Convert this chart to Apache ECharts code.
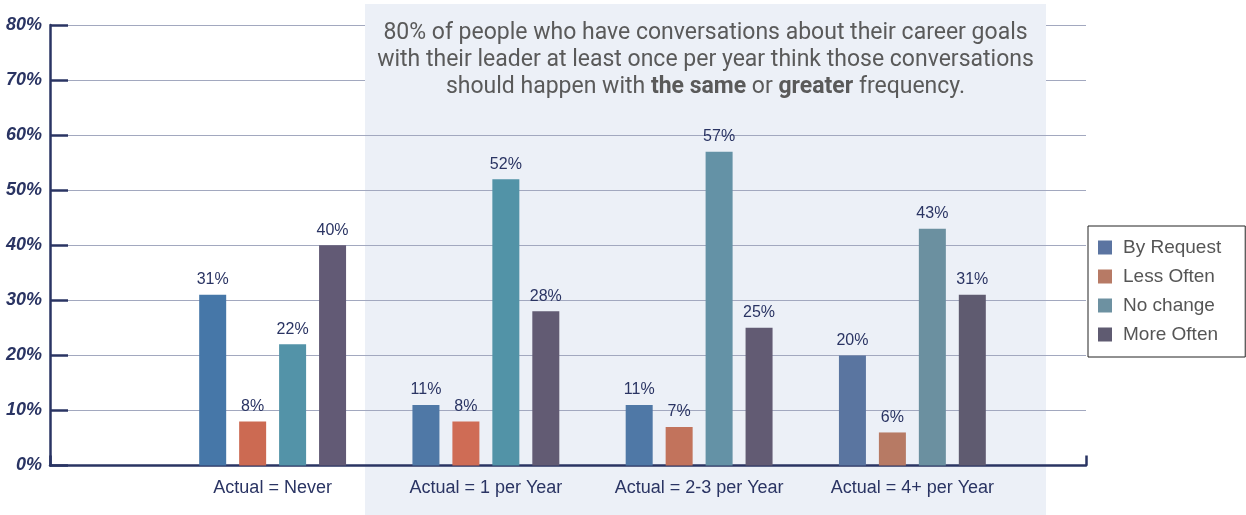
<!DOCTYPE html>
<html>
<head>
<meta charset="utf-8">
<script src="https://cdn.jsdelivr.net/npm/echarts@6/dist/echarts.min.js"></script>
<style>
  html, body { margin: 0; padding: 0; background: #ffffff; }
  #chart { width: 1246px; height: 515px; }
</style>
</head>
<body>
<div id="chart"></div>
<script>
// Survey responses: how often career-goal conversations should happen,
// grouped by how often they actually happen today.
const categories = ['Actual = Never', 'Actual = 1 per Year', 'Actual = 2-3 per Year', 'Actual = 4+ per Year'];
const seriesNames = ['By Request', 'Less Often', 'No change', 'More Often'];
const byRequest = [31, 11, 11, 20];
const lessOften = [8, 8, 7, 6];
const noChange = [22, 52, 57, 43];
const moreOften = [40, 28, 25, 31];
const yTicks = [0, 10, 20, 30, 40, 50, 60, 70, 80];

// Palette: legend swatch colour per series, plus the slightly shifted shade each group uses.
const legendColors = ['#5b74a1', '#b77a65', '#6d91a1', '#5f5b71'];
const groupColors = [
  ['#4677a8', '#4f78a6', '#4f78a6', '#5a75a0'],
  ['#cc6a52', '#cf6c55', '#c2735c', '#b77a64'],
  ['#5393a8', '#5293a7', '#6492a6', '#6b90a0'],
  ['#625a75', '#625b73', '#625b73', '#5f5b70']
];

const navy = '#2a3463';
const seriesValues = [byRequest, lessOften, noChange, moreOften];

const chart = echarts.init(document.getElementById('chart'), null, { renderer: 'canvas' });

const series = seriesValues.map((vals, s) => ({
  name: seriesNames[s],
  type: 'bar',
  xAxisIndex: 1,
  yAxisIndex: 1,
  barWidth: 27,
  barGap: '48%',
  itemStyle: { color: legendColors[s] },
  data: vals.map((v, i) => ({ value: v, itemStyle: { color: groupColors[s][i] } })),
  label: {
    show: true,
    position: 'top',
    distance: 7,
    formatter: p => p.value + '%',
    color: navy,
    fontSize: 16,
    fontFamily: 'Liberation Sans, Arial, sans-serif'
  },
  z: 3
}));

const option = {
  animation: false,
  backgroundColor: '#ffffff',
  grid: [
    // frame: axes and gridlines
    { left: 50, right: 160, top: 25, bottom: 49.5 },
    // plotting band for the bar groups
    { left: 166, right: 227, top: 25, bottom: 49.5 }
  ],
  xAxis: [
    {
      gridIndex: 0,
      type: 'value',
      min: 0, max: 1, interval: 1,
      axisLine: { show: true, onZero: false, lineStyle: { color: navy, width: 2.5 } },
      axisTick: { show: true, inside: true, length: 10, lineStyle: { color: navy, width: 2.5 } },
      axisLabel: { show: false },
      splitLine: { show: false }
    },
    {
      gridIndex: 1,
      type: 'category',
      data: categories,
      axisLine: { show: false },
      axisTick: { show: false },
      axisLabel: {
        interval: 0,
        color: navy,
        fontSize: 18,
        margin: 14,
        fontFamily: 'Liberation Sans, Arial, sans-serif'
      }
    }
  ],
  yAxis: [
    {
      gridIndex: 0,
      type: 'value',
      min: yTicks[0],
      max: yTicks[yTicks.length - 1],
      interval: 10,
      axisLine: { show: true, lineStyle: { color: navy, width: 2.5 } },
      axisTick: { show: true, inside: true, length: 18, lineStyle: { color: navy, width: 2.5 } },
      axisLabel: {
        formatter: v => v + '%',
        color: navy,
        fontSize: 18,
        fontWeight: 'bold',
        fontStyle: 'italic',
        margin: 8,
        fontFamily: 'Liberation Sans, Arial, sans-serif'
      },
      splitLine: { show: true, lineStyle: { color: '#a2a8bf', width: 1.2 } }
    },
    {
      gridIndex: 1,
      type: 'value',
      min: yTicks[0],
      max: yTicks[yTicks.length - 1],
      interval: 10,
      show: false,
      splitLine: { show: false }
    }
  ],
  legend: {
    orient: 'vertical',
    left: 1088,
    top: 226,
    data: seriesNames,
    itemWidth: 14,
    itemHeight: 14,
    itemGap: 10,
    padding: [12, 24, 13, 10],
    borderColor: '#222222',
    borderWidth: 1,
    icon: 'rect',
    textStyle: {
      color: '#555555',
      fontSize: 19,
      padding: [0, 0, 0, 6],
      fontFamily: 'Liberation Sans, Arial, sans-serif'
    }
  },
  graphic: [
    {
      type: 'rect',
      z: -100,
      shape: { x: 365, y: 4, width: 681, height: 511 },
      style: { fill: '#ecf0f7' },
      silent: true
    },
    {
      type: 'rect',
      z: 50,
      shape: { x: 365, y: 4, width: 681, height: 104 },
      style: { fill: '#ecf0f7' },
      silent: true
    },
    {
      type: 'text',
      z: 51,
      x: 705.5,
      y: 20,
      style: {
        text: '80% of people who have conversations about their career goals\n' +
              'with their leader at least once per year think those conversations\n' +
              'should happen with {b|the same} or {b|greater} frequency.',
        align: 'center',
        verticalAlign: 'top',
        fill: '#5a5a5a',
        fontSize: 23,
        lineHeight: 27,
        fontFamily: 'Roboto, Liberation Sans, sans-serif',
        rich: {
          b: {
            fontWeight: 'bold',
            fontSize: 23,
            lineHeight: 27,
            fill: '#5a5a5a',
            fontFamily: 'Roboto, Liberation Sans, sans-serif'
          }
        }
      },
      silent: true
    }
  ],
  series: series
};

chart.setOption(option);
</script>
</body>
</html>
